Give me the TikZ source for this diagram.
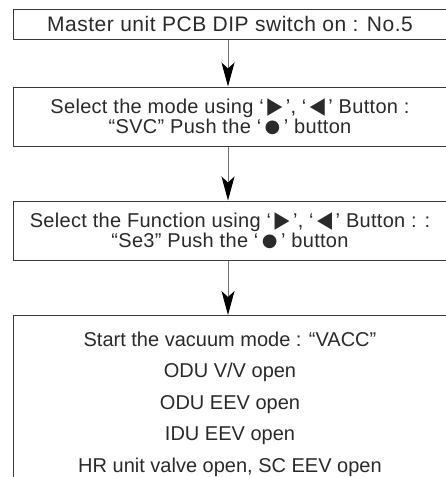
\documentclass[tikz,border=0pt]{standalone}
\usepackage{fontspec}
\setmainfont{Liberation Sans}
\newfontfamily\symfont{DejaVu Sans}
\usepackage{graphicx}
\usetikzlibrary{arrows.meta}
\definecolor{boxline}{HTML}{3A3A3A}
\definecolor{arrowgray}{HTML}{707070}
\definecolor{txt}{HTML}{2A2A2A}
\newcommand{\symglyph}[1]{\raisebox{0pt}[\height][0pt]{\scalebox{1.15}[1.35]{\symfont\fontsize{17}{17}\selectfont #1}}}
\newcommand{\rtri}{\kern3.5pt\symglyph{▶}\kern3.5pt}
\newcommand{\ltri}{\kern3.5pt\symglyph{◀}\kern3.5pt}
\newcommand{\dotbtn}{\kern3.5pt\raisebox{0.8pt}[0pt][0pt]{\symfont\fontsize{18}{18}\selectfont ●}\kern3.5pt}
\tikzset{
  box/.style={draw=boxline, line width=1pt, minimum width=434pt, inner xsep=0pt, inner ysep=0pt,
    align=center, text=txt, font=\addfontfeatures{LetterSpace=1.5}\fontsize{20}{20}\selectfont},
  flow/.style={draw=arrowgray, line width=0.9pt,
    -{Stealth[length=24pt, width=13pt, inset=6pt, color=black]}}
}
\begin{document}
\begin{tikzpicture}[x=1pt, y=-1pt]
  \useasboundingbox (0,0) rectangle (446,477);
  \clip (0,0) rectangle (446,477);
  \node[box, minimum height=30pt, font=\addfontfeatures{LetterSpace=2.5}\fontsize{21}{20}\selectfont] (b1) at (230,24) {Master unit PCB DIP switch on : No.5};
  \node[box, minimum height=59pt] (b2) at (230,116.5)
    {Select the mode using ‘\rtri’, ‘\ltri’ Button :\\“SVC” Push the ‘\dotbtn’ button};
  \node[box, minimum height=59pt] (b3) at (230,230.5)
    {Select the Function using ‘\rtri’, ‘\ltri’ Button : :\\“Se3” Push the ‘\dotbtn’ button};
  \node[box, anchor=north, inner ysep=16.5pt, font=\fontsize{20}{31.5}\selectfont] (b4) at (230,315)
    {Start the vacuum mode : “VACC”\\ODU V/V open\\ODU EEV open\\IDU EEV open\\HR unit valve open, SC EEV open};
  \draw[flow] ([xshift=-2pt]b1.south) -- ([xshift=-2pt]b2.north);
  \draw[flow] ([xshift=-2pt]b2.south) -- ([xshift=-2pt]b3.north);
  \draw[flow] ([xshift=-2pt]b3.south) -- ([xshift=-2pt]b4.north);
\end{tikzpicture}
\end{document}
